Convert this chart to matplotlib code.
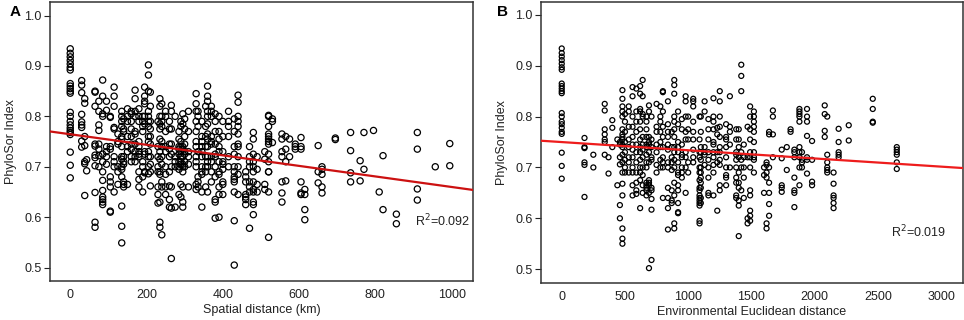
import numpy as np
import matplotlib
matplotlib.use("Agg")
import matplotlib.pyplot as plt

plt.rcParams['font.family'] = ['Liberation Sans', 'DejaVu Sans']

# ---- Panel A: spatial distance (km) vs PhyloSor ----
dist_km = [0, 30, 38, 43, 65, 75, 85, 95, 105, 115, 125, 135, 140, 150, 160,
           170, 180, 190, 195, 205, 210, 230, 235, 240, 250, 260, 265, 275,
           285, 290, 295, 300, 310, 330, 335, 345, 355, 360, 370, 380, 390,
           400, 415, 430, 440, 460, 470, 480, 490, 510, 520, 530, 555, 565,
           575, 590, 605, 615, 650, 660, 695, 735, 760, 770, 795, 810, 820,
           855, 910, 957, 995]
phylo_a = [
    [0.934, 0.925, 0.918, 0.911, 0.904, 0.897, 0.892, 0.865, 0.860, 0.855,
     0.850, 0.846, 0.808, 0.800, 0.790, 0.783, 0.777, 0.772, 0.768, 0.764,
     0.729, 0.703, 0.678],
    [0.871, 0.862, 0.847, 0.804, 0.789, 0.783, 0.778, 0.751, 0.739],
    [0.835, 0.826, 0.76, 0.742, 0.71, 0.706, 0.643],
    [0.714, 0.692],
    [0.85, 0.848, 0.82, 0.745, 0.741, 0.723, 0.718, 0.702, 0.649, 0.59, 0.58],
    [0.83, 0.81, 0.783, 0.772, 0.745, 0.735, 0.722, 0.70],
    [0.872, 0.84, 0.805, 0.80, 0.725, 0.71, 0.69, 0.673, 0.653, 0.64, 0.635,
     0.63, 0.625],
    [0.83, 0.812, 0.74, 0.73, 0.705, 0.72],
    [0.8, 0.798, 0.74, 0.735, 0.68, 0.67, 0.66, 0.612, 0.61],
    [0.858, 0.84, 0.82, 0.778, 0.775, 0.72, 0.71, 0.7, 0.65],
    [0.765, 0.75, 0.745, 0.7, 0.69, 0.665],
    [0.81, 0.8, 0.79, 0.78, 0.76, 0.755, 0.74, 0.72, 0.715, 0.7, 0.695, 0.68,
     0.622, 0.582, 0.549],
    [0.795, 0.775, 0.77, 0.72, 0.71, 0.705, 0.67, 0.665, 0.66],
    [0.815, 0.80, 0.79, 0.76, 0.74, 0.73, 0.665],
    [0.81, 0.805, 0.79, 0.775, 0.76, 0.745, 0.735, 0.72, 0.71],
    [0.852, 0.835, 0.81, 0.80, 0.77, 0.765, 0.745, 0.73, 0.72, 0.71],
    [0.815, 0.80, 0.79, 0.75, 0.74, 0.73, 0.725, 0.72, 0.69, 0.675, 0.66],
    [0.8, 0.79, 0.78, 0.77, 0.71, 0.7, 0.68, 0.65],
    [0.858, 0.84, 0.83, 0.825, 0.8, 0.785, 0.73, 0.725, 0.69, 0.688],
    [0.902, 0.882, 0.85, 0.81, 0.8, 0.79, 0.78, 0.76, 0.75, 0.73, 0.72, 0.7,
     0.686],
    [0.848, 0.82, 0.79, 0.775, 0.76, 0.745, 0.72, 0.705, 0.69, 0.662],
    [0.79, 0.74, 0.72, 0.7, 0.69, 0.66, 0.645, 0.628],
    [0.835, 0.82, 0.8, 0.785, 0.775, 0.755, 0.73, 0.715, 0.69, 0.685, 0.63,
     0.59, 0.58],
    [0.825, 0.80, 0.79, 0.78, 0.75, 0.74, 0.72, 0.705, 0.67, 0.66, 0.565],
    [0.81, 0.8, 0.77, 0.74, 0.73, 0.7, 0.685, 0.66, 0.645],
    [0.79, 0.775, 0.745, 0.735, 0.72, 0.69, 0.662, 0.635, 0.62],
    [0.822, 0.81, 0.775, 0.745, 0.725, 0.7, 0.66, 0.618, 0.518],
    [0.8, 0.72, 0.71, 0.7, 0.62],
    [0.77, 0.755, 0.74, 0.735, 0.725, 0.71, 0.7, 0.695, 0.645],
    [0.79, 0.78, 0.75, 0.74, 0.73, 0.72, 0.71, 0.705, 0.665, 0.64],
    [0.805, 0.785, 0.74, 0.735, 0.72, 0.705, 0.7, 0.69, 0.66, 0.63, 0.62],
    [0.795, 0.775, 0.76, 0.745, 0.73, 0.725, 0.71, 0.7],
    [0.81, 0.77, 0.73, 0.72, 0.705, 0.66],
    [0.845, 0.825, 0.81, 0.79, 0.77, 0.75, 0.74, 0.72, 0.71, 0.7, 0.665,
     0.655],
    [0.81, 0.8, 0.78, 0.73, 0.68, 0.67, 0.66],
    [0.79, 0.76, 0.75, 0.74, 0.73, 0.72, 0.7, 0.69, 0.685, 0.65, 0.62],
    [0.82, 0.78, 0.76, 0.74, 0.72, 0.7, 0.69, 0.66],
    [0.86, 0.84, 0.83, 0.81, 0.8, 0.785, 0.765, 0.755, 0.74, 0.72, 0.71, 0.7,
     0.65],
    [0.82, 0.81, 0.8, 0.76, 0.75, 0.745, 0.72, 0.71, 0.69, 0.67],
    [0.805, 0.79, 0.77, 0.745, 0.725, 0.72, 0.7, 0.68, 0.635, 0.63, 0.598],
    [0.8, 0.77, 0.755, 0.74, 0.73, 0.71, 0.69, 0.685, 0.66, 0.645, 0.6],
    [0.79, 0.76, 0.73, 0.71, 0.705, 0.695, 0.67, 0.665, 0.645],
    [0.81, 0.79, 0.78, 0.76, 0.72, 0.7],
    [0.795, 0.77, 0.74, 0.725, 0.7, 0.69, 0.68, 0.675, 0.67, 0.65, 0.593,
     0.505],
    [0.842, 0.828, 0.8, 0.79, 0.78, 0.765, 0.745, 0.74, 0.72, 0.7, 0.685,
     0.645],
    [0.69, 0.68, 0.67, 0.645, 0.64, 0.635, 0.625],
    [0.74, 0.72, 0.71, 0.7, 0.67, 0.66, 0.65, 0.578],
    [0.768, 0.755, 0.725, 0.71, 0.7, 0.69, 0.67, 0.655, 0.65, 0.63, 0.625,
     0.605],
    [0.72, 0.695, 0.665, 0.65],
    [0.73, 0.715, 0.665, 0.655],
    [0.802, 0.8, 0.78, 0.765, 0.76, 0.755, 0.75, 0.745, 0.725, 0.71, 0.69,
     0.69, 0.65, 0.56],
    [0.795, 0.79, 0.748],
    [0.765, 0.755, 0.73, 0.72, 0.67, 0.648, 0.63],
    [0.76, 0.735, 0.71, 0.672],
    [0.755, 0.72],
    [0.745, 0.74, 0.735],
    [0.758, 0.74, 0.735, 0.67, 0.645, 0.648],
    [0.655, 0.645, 0.615, 0.595],
    [0.742, 0.69, 0.668],
    [0.7, 0.695, 0.685, 0.66, 0.648],
    [0.757, 0.754],
    [0.768, 0.732, 0.688, 0.67],
    [0.712, 0.672],
    [0.768, 0.695],
    [0.772],
    [0.65],
    [0.722, 0.615],
    [0.606, 0.587],
    [0.768, 0.735, 0.656, 0.634],
    [0.7],
    [0.746, 0.702],
]

# ---- Panel B: environmental Euclidean distance vs PhyloSor ----
env_dist = [0, 180, 250, 340, 370, 400, 440, 460, 480, 500, 530, 560, 590,
            620, 640, 670, 690, 710, 750, 780, 800, 840, 870, 890, 920, 950,
            980, 1000, 1040, 1090, 1100, 1130, 1160, 1200, 1230, 1250, 1300,
            1330, 1380, 1400, 1420, 1440, 1470, 1490, 1520, 1600, 1620, 1640,
            1670, 1740, 1780, 1810, 1840, 1880, 1900, 1940, 1980, 2080, 2100,
            2150, 2190, 2270, 2460, 2650]
phylo_b = [
    [0.934, 0.925, 0.918, 0.911, 0.904, 0.897, 0.892, 0.865, 0.86, 0.855,
     0.85, 0.846, 0.807, 0.8, 0.79, 0.785, 0.778, 0.77, 0.766, 0.729, 0.703,
     0.678],
    [0.758, 0.74, 0.738, 0.71, 0.705, 0.642],
    [0.725, 0.7],
    [0.825, 0.812, 0.775, 0.765, 0.755, 0.75, 0.725],
    [0.72, 0.688],
    [0.793, 0.778, 0.74],
    [0.755, 0.665],
    [0.75, 0.745, 0.72, 0.706, 0.626, 0.6],
    [0.852, 0.835, 0.82, 0.81, 0.8, 0.775, 0.765, 0.76, 0.755, 0.745, 0.74,
     0.725, 0.71, 0.69, 0.668, 0.645, 0.58, 0.56, 0.55],
    [0.805, 0.79, 0.77, 0.75, 0.73, 0.715, 0.7, 0.69],
    [0.82, 0.81, 0.78, 0.755, 0.74, 0.72, 0.71, 0.69],
    [0.858, 0.84, 0.8, 0.78, 0.76, 0.745, 0.735, 0.72, 0.7, 0.69, 0.665,
     0.645],
    [0.855, 0.81, 0.79, 0.77, 0.745, 0.73, 0.71, 0.69, 0.67, 0.655, 0.648],
    [0.86, 0.845, 0.815, 0.81, 0.79, 0.775, 0.755, 0.74, 0.73, 0.715, 0.7,
     0.69, 0.675, 0.62],
    [0.872, 0.84, 0.805, 0.8, 0.76, 0.745, 0.735, 0.72, 0.7, 0.685, 0.665,
     0.65],
    [0.8, 0.79, 0.775, 0.76, 0.745, 0.74, 0.725, 0.71, 0.7, 0.67, 0.665, 0.66,
     0.655, 0.645],
    [0.822, 0.81, 0.76, 0.75, 0.745, 0.73, 0.71, 0.675, 0.67, 0.665, 0.65,
     0.502],
    [0.8, 0.755, 0.74, 0.72, 0.715, 0.66, 0.655, 0.638, 0.617, 0.518],
    [0.825, 0.78, 0.77, 0.745, 0.73, 0.705, 0.69],
    [0.82, 0.8, 0.79, 0.77, 0.75, 0.74, 0.715, 0.7],
    [0.85, 0.848, 0.81, 0.78, 0.76, 0.74, 0.72, 0.71, 0.7, 0.64],
    [0.83, 0.785, 0.77, 0.76, 0.745, 0.735, 0.71, 0.7, 0.66, 0.64, 0.62,
     0.578],
    [0.77, 0.74, 0.72, 0.71, 0.695, 0.655, 0.635, 0.63],
    [0.872, 0.862, 0.845, 0.8, 0.79, 0.775, 0.76, 0.74, 0.73, 0.715, 0.7,
     0.67, 0.645, 0.59, 0.58],
    [0.81, 0.785, 0.75, 0.74, 0.73, 0.71, 0.69, 0.685, 0.665, 0.655, 0.63,
     0.612, 0.61],
    [0.795, 0.775, 0.745, 0.725, 0.72, 0.7, 0.69, 0.68],
    [0.84, 0.83, 0.8, 0.77, 0.755, 0.73, 0.72, 0.7, 0.65],
    [0.8, 0.775, 0.755, 0.71, 0.69],
    [0.835, 0.83, 0.82, 0.79, 0.77, 0.755, 0.735, 0.72, 0.71],
    [0.8, 0.755, 0.73, 0.72, 0.7, 0.69, 0.675, 0.66, 0.655, 0.645, 0.64,
     0.635, 0.63, 0.625, 0.595, 0.59],
    [0.8, 0.77, 0.74, 0.73, 0.715, 0.7, 0.69, 0.68, 0.67, 0.66, 0.64, 0.63],
    [0.83, 0.81, 0.74, 0.73, 0.725, 0.705],
    [0.795, 0.775, 0.755, 0.73, 0.715, 0.7, 0.68, 0.65, 0.645],
    [0.836, 0.8, 0.79, 0.775, 0.75, 0.745, 0.73, 0.72, 0.705, 0.69, 0.645],
    [0.778, 0.765, 0.73, 0.71, 0.615],
    [0.85, 0.83, 0.8, 0.78, 0.76, 0.74, 0.73, 0.715, 0.705, 0.665, 0.655],
    [0.785, 0.76, 0.755, 0.74, 0.72, 0.7, 0.685, 0.68, 0.665],
    [0.84, 0.78, 0.77, 0.745, 0.7],
    [0.775, 0.755, 0.73, 0.725, 0.715, 0.7, 0.68, 0.67, 0.645, 0.64],
    [0.775, 0.755, 0.74, 0.72, 0.69, 0.67, 0.66, 0.635, 0.625, 0.565],
    [0.902, 0.88, 0.85, 0.73, 0.715, 0.7, 0.655],
    [0.745, 0.72, 0.7, 0.68, 0.64],
    [0.78, 0.72, 0.59, 0.6],
    [0.82, 0.8, 0.775, 0.755, 0.73, 0.72, 0.7, 0.655, 0.645, 0.615, 0.605,
     0.595],
    [0.81, 0.8, 0.79, 0.78, 0.77, 0.75, 0.73, 0.72, 0.715, 0.69],
    [0.7, 0.685, 0.65],
    [0.71, 0.705, 0.69, 0.68, 0.59, 0.58],
    [0.77, 0.765, 0.7, 0.67, 0.65, 0.628, 0.605],
    [0.812, 0.8, 0.765, 0.72],
    [0.735, 0.718, 0.665, 0.66, 0.652],
    [0.74, 0.695],
    [0.775, 0.77],
    [0.735, 0.73, 0.72, 0.68, 0.655, 0.65, 0.622],
    [0.815, 0.81, 0.805, 0.8, 0.79, 0.74, 0.73, 0.72, 0.7, 0.665],
    [0.73, 0.715, 0.71, 0.7],
    [0.815, 0.8, 0.79, 0.762, 0.72, 0.715, 0.688],
    [0.752, 0.715, 0.672, 0.665],
    [0.822, 0.805, 0.772, 0.76],
    [0.8, 0.725, 0.71, 0.7, 0.695, 0.69],
    [0.69, 0.668, 0.645, 0.64, 0.63, 0.62],
    [0.776, 0.75, 0.73, 0.725, 0.72],
    [0.783, 0.753],
    [0.835, 0.815, 0.79, 0.788],
    [0.74, 0.735, 0.73, 0.725, 0.71, 0.697],
]

# fitted lines (intercept, slope) and R^2 as printed on the figure
fit_a = (0.7645, -0.0001046)
fit_b = (0.7499, -0.0000161)
r2_a = "0.092"
r2_b = "0.019"

y_ticks = [0.5, 0.6, 0.7, 0.8, 0.9, 1.0]


def expand(xs, ys):
    x = np.concatenate([[xv] * len(col) for xv, col in zip(xs, ys)])
    y = np.concatenate(ys)
    return x, y


def draw_panel(ax, xs, ys, fit, r2, xlim, ylim, xticks, xlabel, letter,
               msize, line_color, r2_pos, letter_x):
    x, y = expand(xs, ys)
    ax.scatter(x, y, s=msize, facecolors="none", edgecolors="black",
               linewidths=0.9, zorder=2)
    xl = np.array(xlim)
    ax.plot(xl, fit[0] + fit[1] * xl, color=line_color, lw=1.6, zorder=3)
    ax.set_xlim(*xlim)
    ax.set_ylim(*ylim)
    ax.set_xticks(xticks)
    ax.set_yticks(y_ticks)
    ax.set_yticklabels([f"{v:.1f}" for v in y_ticks])
    ax.tick_params(axis="y", length=4, width=0.8, pad=2, labelsize=9,
                   colors="#222222")
    ax.tick_params(axis="x", length=0, pad=6, labelsize=9,
                   colors="#222222")
    for sp in ax.spines.values():
        sp.set_linewidth(1.1)
        sp.set_color("#333333")
    ax.set_xlabel(xlabel, fontsize=9, labelpad=2, color="#222222")
    ax.set_ylabel("PhyloSor Index", fontsize=9, labelpad=5,
                  color="#222222")
    ax.text(r2_pos[0], r2_pos[1], "R$^2$=" + r2, fontsize=9,
            transform=ax.transAxes, ha="left", va="center", color="#222222")
    ax.text(letter_x, 0.965, letter, fontsize=11, fontweight="bold",
            transform=ax.transAxes, ha="left", va="center")


fig = plt.figure(figsize=(9.64, 3.2), dpi=100)
ax_a = fig.add_axes([0.0519, 0.122, 0.4388, 0.872])
ax_b = fig.add_axes([0.5612, 0.116, 0.4378, 0.878])

draw_panel(ax_a, dist_km, phylo_a, fit_a, r2_a, (-53, 1056),
           (0.4735, 1.027), [0, 200, 400, 600, 800, 1000],
           "Spatial distance (km)", "A", 20, "#cc1111", (0.862, 0.215),
           -0.095)
draw_panel(ax_b, env_dist, phylo_b, fit_b, r2_b, (-164, 3174),
           (0.473, 1.0255), [0, 500, 1000, 1500, 2000, 2500, 3000],
           "Environmental Euclidean distance", "B", 13, "#ee1c1c",
           (0.83, 0.18), -0.105)

fig.savefig("out.png", dpi=100)
